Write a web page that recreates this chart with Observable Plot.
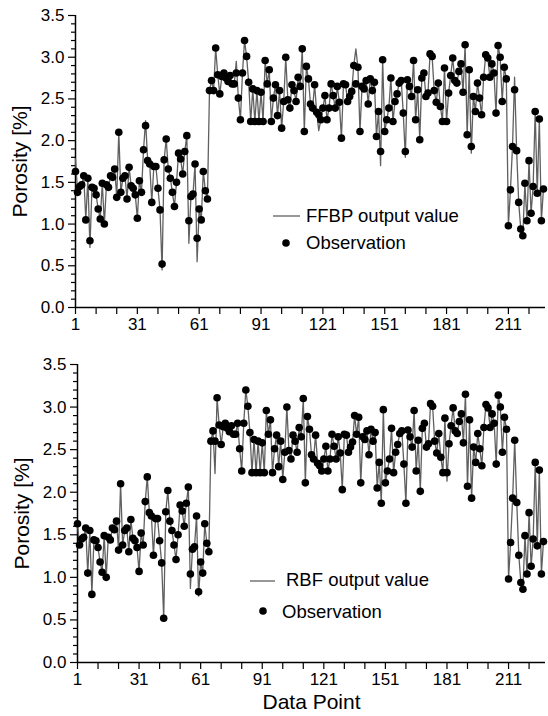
<!DOCTYPE html>
<html><head><meta charset="utf-8">
<script src="https://cdn.jsdelivr.net/npm/d3@7"></script>
<script src="https://cdn.jsdelivr.net/npm/@observablehq/plot@0.6"></script>
<style>
body{margin:0;background:#fff;}
#wrap{position:relative;width:548px;height:716px;font-family:'Liberation Sans',Arial,sans-serif;}
#wrap > svg{display:block}
#legend{position:absolute;left:0;top:0;pointer-events:none}
</style></head><body><div id="wrap"></div>
<script>
const FONT = "'Liberation Sans', Arial, sans-serif";
const pointIndex = d3.range(1, 229);
const observation = [
1.63,1.38,1.45,1.47,1.58,1.05,1.55,0.80,1.44,1.43,
1.35,1.18,1.06,1.49,1.00,1.47,1.44,1.58,1.56,1.66,
1.32,2.10,1.38,1.55,1.58,1.30,1.68,1.46,1.43,1.35,
1.07,1.52,1.38,1.89,2.18,1.76,1.72,1.26,1.69,1.69,
1.43,1.17,0.52,1.77,2.02,1.66,1.55,1.38,1.21,1.50,
1.85,1.78,1.60,1.87,2.06,1.04,1.33,1.36,1.72,0.83,
1.18,1.05,1.63,1.40,1.30,
2.60,2.72,2.60,3.11,2.79,2.56,2.77,2.81,2.75,2.71,
2.78,2.68,2.68,2.81,2.51,2.25,2.81,3.20,3.01,2.70,
2.23,2.62,2.23,2.60,2.23,2.58,2.23,2.96,2.68,2.85,2.23,
2.51,2.67,2.30,2.60,2.15,2.47,3.00,2.49,2.39,2.67,
2.60,2.47,2.76,2.65,3.10,2.11,2.89,2.74,2.44,2.39,
2.67,2.34,2.31,2.25,2.39,2.54,2.25,2.39,2.68,2.54,
2.39,2.65,2.46,2.03,2.68,2.67,2.47,2.53,2.59,2.90,
2.68,2.88,2.11,2.65,2.62,2.72,2.44,2.74,2.60,2.70,
2.05,2.35,1.87,2.97,2.11,2.25,2.39,2.75,2.23,2.47,
2.56,2.69,
2.72,2.33,1.87,2.73,2.65,2.53,2.96,2.25,2.61,2.01,
2.75,2.81,2.53,2.57,3.04,3.01,2.60,2.46,2.69,2.41,
2.23,2.87,2.23,2.57,2.78,2.99,2.72,2.69,2.83,2.92,
2.58,3.15,2.07,2.85,1.93,2.53,2.35,2.69,2.51,2.31,
2.76,3.03,2.99,2.76,2.92,2.81,2.33,3.14,3.00,2.47,
2.88,2.74,
0.98,1.41,1.93,2.61,1.88,1.26,0.94,0.86,1.49,1.04,
1.76,1.13,1.45,2.35,1.37,2.26,1.04,1.42];
const ffbpOutput = [
1.78,1.38,1.45,1.47,1.58,1.05,1.55,0.72,1.44,1.43,
1.35,1.18,1.06,1.49,1.00,1.47,1.44,1.58,1.56,1.66,
1.32,2.10,1.38,1.55,1.58,1.30,1.68,1.46,1.43,1.35,
1.07,1.52,1.38,1.89,2.24,1.76,1.72,1.26,1.69,1.69,
1.43,1.17,0.45,1.77,2.02,1.66,1.55,1.38,1.21,1.50,
1.85,1.78,1.60,1.87,2.06,0.77,1.33,1.36,1.72,0.55,
1.18,1.05,1.63,1.40,1.30,
2.60,2.72,2.60,3.11,2.79,2.56,2.77,2.81,2.75,2.71,
2.78,2.68,2.68,2.95,2.51,2.25,2.81,3.20,3.01,2.70,
2.23,2.62,2.23,2.60,2.23,2.58,2.23,2.96,2.68,2.85,2.23,
2.51,2.67,2.30,2.60,2.15,2.47,3.00,2.49,2.39,2.67,
2.60,2.47,2.76,2.65,3.10,2.11,2.89,2.74,2.44,2.39,
2.67,2.34,2.12,2.25,2.39,2.54,2.25,2.39,2.68,2.54,
2.39,2.65,2.46,2.03,2.68,2.67,2.47,2.53,2.59,2.90,
3.10,2.88,2.11,2.65,2.62,2.72,2.44,2.74,2.60,2.70,
2.05,2.35,1.70,2.97,2.11,2.25,2.39,2.75,2.23,2.47,
2.56,2.69,
2.72,2.33,1.80,2.73,2.65,2.53,2.96,2.25,2.61,2.01,
2.75,2.81,2.53,2.57,3.04,3.01,2.60,2.46,2.69,2.41,
2.23,2.87,2.23,2.57,2.78,2.99,2.72,2.69,2.83,2.92,
2.58,3.15,2.07,2.85,1.85,2.53,2.35,2.69,2.51,2.31,
2.76,3.03,2.99,2.76,2.92,2.81,2.33,3.14,3.00,2.47,
2.88,2.74,
0.98,1.41,1.93,2.76,1.88,1.26,0.94,0.86,1.49,1.04,
1.76,1.13,1.45,2.35,1.37,2.26,1.04,1.42];
const rbfOutput = [
1.63,1.38,1.45,1.47,1.58,1.05,1.55,0.80,1.44,1.43,
1.35,1.18,1.06,1.49,1.00,1.47,1.44,1.58,1.56,1.66,
1.32,2.10,1.38,1.55,1.58,1.30,1.68,1.46,1.43,1.35,
1.07,1.52,1.38,1.89,2.18,1.76,1.72,1.26,1.69,1.69,
1.43,1.17,0.52,1.77,2.02,1.66,1.55,1.38,1.21,1.50,
1.85,1.78,1.60,1.87,2.06,0.87,1.33,1.36,1.72,0.78,
1.18,1.05,1.63,1.40,1.30,
2.60,2.72,2.22,3.11,2.79,2.56,2.77,2.81,2.75,2.71,
2.78,2.68,2.68,2.81,2.51,2.25,2.81,3.20,3.01,2.70,
2.23,2.62,2.23,2.60,2.23,2.58,2.23,2.96,2.68,2.85,2.23,
2.51,2.67,2.30,2.60,2.15,2.47,3.00,2.49,2.39,2.67,
2.60,2.47,2.76,2.65,3.10,2.11,2.89,2.74,2.44,2.39,
2.67,2.34,2.31,2.25,2.39,2.54,2.25,2.39,2.68,2.54,
2.39,2.65,2.46,2.03,2.68,2.67,2.47,2.53,2.59,2.90,
2.68,2.88,2.11,2.65,2.62,2.72,2.44,2.74,2.60,2.70,
2.05,2.35,1.87,2.97,2.11,2.25,2.39,2.75,2.23,2.47,
2.56,2.69,
2.72,2.33,1.87,2.73,2.65,2.53,2.96,2.25,2.61,2.01,
2.75,2.81,2.53,2.57,3.04,3.01,2.60,2.46,2.69,2.41,
2.23,2.87,2.13,2.57,2.78,2.99,2.72,2.69,2.83,2.92,
2.58,3.15,2.07,2.85,1.93,2.53,2.35,2.69,2.51,2.31,
2.76,3.03,2.99,2.76,2.92,2.81,2.33,3.14,3.00,2.47,
2.88,2.74,
0.98,1.41,1.93,2.61,1.88,1.26,0.94,0.86,1.49,1.04,
1.76,1.13,1.45,2.35,1.37,2.26,1.04,1.42];

const xTicks = [1,11,21,31,41,51,61,71,81,91,101,111,121,131,141,151,161,171,181,191,201,211,221];
const xLabels = [1,31,61,91,121,151,181,211];
const yMajor = [0,0.5,1.0,1.5,2.0,2.5,3.0,3.5];
const yMinor = [0.1,0.2,0.3,0.4,0.6,0.7,0.8,0.9,1.1,1.2,1.3,1.4,1.6,1.7,1.8,1.9,2.1,2.2,2.3,2.4,2.6,2.7,2.8,2.9,3.1,3.2,3.3,3.4];
const yTitle = "Porosity [%]";
const xTitle = "Data Point";
const legend1 = ["FFBP output value", "Observation"];
const legend2 = ["RBF output value", "Observation"];

function panel(model, {height, marginLeft, marginTop, marginBottom, xLabel}) {
  const rows = pointIndex.map((p, i) => ({p, obs: observation[i], model: model[i]}));
  return Plot.plot({
    width: 548, height, marginLeft, marginRight: 3, marginTop, marginBottom,
    style: {fontFamily: FONT, fontSize: "17px", background: "white", color: "black", overflow: "visible"},
    x: {domain: [1, 229]},
    y: {domain: [0, 3.5]},
    marks: [
      Plot.axisY({ticks: yMinor, tickSize: 4, tickFormat: () => "", label: null, strokeWidth: 1.2}),
      Plot.axisY({ticks: yMajor, tickSize: 7, tickPadding: 4, tickFormat: d => d.toFixed(1), label: null, strokeWidth: 1.2}),
      Plot.axisX({ticks: xTicks, tickSize: 7, tickPadding: 3, tickFormat: d => xLabels.includes(d) ? String(d) : "", label: null, strokeWidth: 1.2}),
      Plot.ruleX([1], {stroke: "black", strokeWidth: 1.5}),
      Plot.ruleY([0], {stroke: "black", strokeWidth: 1.5}),
      Plot.line(rows, {x: "p", y: "model", stroke: "#606060", strokeWidth: 1.3}),
      Plot.dot(rows, {x: "p", y: "obs", r: 3.8, fill: "black", stroke: "none"}),
      Plot.text([yTitle], {text: d => d, frameAnchor: "left", textAnchor: "middle", lineAnchor: "middle", dx: -55, rotate: -90, fontSize: 21}),
      xLabel ? Plot.text([xLabel], {text: d => d, frameAnchor: "bottom", textAnchor: "middle", lineAnchor: "middle", dy: 40, fontSize: 21}) : null
    ]
  });
}

const wrap = document.getElementById("wrap");
wrap.appendChild(panel(ffbpOutput, {height: 340, marginLeft: 75, marginTop: 15, marginBottom: 33}));
wrap.appendChild(panel(rbfOutput, {height: 376, marginLeft: 77, marginTop: 24, marginBottom: 54, xLabel: xTitle}));

// legends (inside the plot areas)
const lg = d3.select(wrap).append("svg").attr("id", "legend").attr("width", 548).attr("height", 716)
  .style("font-family", FONT).style("font-size", "18.5px");
function drawLegend(labels, lx1, lx2, ly, tx1, ty1, dx, dy, tx2, ty2) {
  lg.append("line").attr("x1", lx1).attr("x2", lx2).attr("y1", ly).attr("y2", ly).attr("stroke", "#606060").attr("stroke-width", 1.3);
  lg.append("text").attr("x", tx1).attr("y", ty1).text(labels[0]);
  lg.append("circle").attr("cx", dx).attr("cy", dy).attr("r", 3.8).attr("fill", "black");
  lg.append("text").attr("x", tx2).attr("y", ty2).text(labels[1]);
}
drawLegend(legend1, 273, 300, 216, 306, 222, 286, 243, 306, 249);
drawLegend(legend2, 250, 275, 581, 286, 586, 263, 611, 282, 618);
</script></body></html>
